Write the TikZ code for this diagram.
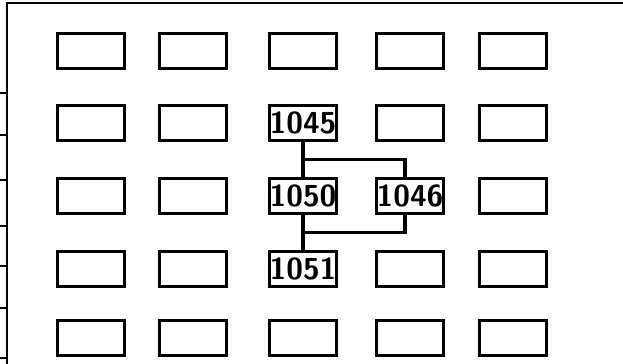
\documentclass[tikz,border=0pt]{standalone}
\usepackage{tikz}
\usetikzlibrary{
	calc,
	positioning
}

\begin{document}
\begin{tikzpicture}[x=0.02cm, y=-0.02cm,
	cell/.style={draw, line width=1.5pt, minimum width=1.34cm, minimum height=0.7cm, inner sep=0pt},
	tag/.style={font=\LARGE\sffamily\bfseries},
	link/.style={line width=2pt}]
	\useasboundingbox (0,0) rectangle (623,364);
	\draw[line width=1.6pt] (7,364) -- (7,3) -- (623,3);
	\foreach \ty in {93,135,180,226,266,308,358}
	\draw[line width=1.2pt] (0,\ty) -- (7,\ty);
	\foreach \cx [count=\c] in {91,193,303,410,513}
	\foreach \ry [count=\r] in {51,123,196,269,338}
	\node[cell] (b-\c-\r) at (\cx,\ry) {};
	\node[tag] (n1045) at (b-3-2) {1045};
	\node[tag] (n1050) at (b-3-3) {1050};
	\node[tag] (n1046) at (b-4-3) {1046};
	\node[tag] (n1051) at (b-3-4) {1051};
	\coordinate (j1) at ($(b-3-2.south)!0.5!(b-3-3.north)$);
	\coordinate (j2) at ($(b-3-3.south)!0.5!(b-3-4.north)$);
	\draw[link] (b-3-2.south) -- (b-3-3.north);
	\draw[link] (b-3-3.south) -- (b-3-4.north);
	\draw[link] (j1) -| ([xshift=-0.1cm]b-4-3.north);
	\draw[link] (j2) -| ([xshift=-0.1cm]b-4-3.south);
\end{tikzpicture}
\end{document}
